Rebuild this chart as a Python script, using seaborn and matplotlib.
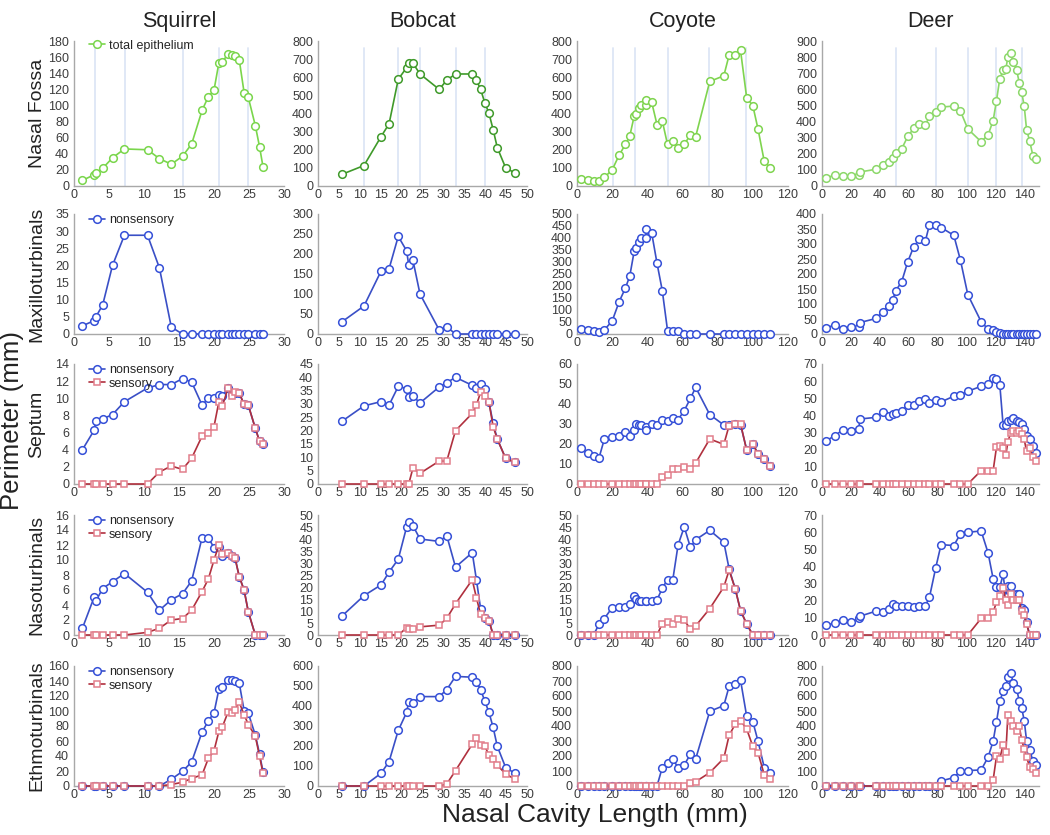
import pandas as pd
import matplotlib
matplotlib.use("Agg")
import matplotlib.pyplot as plt
import seaborn as sns

# ---------------- data ----------------
sq_x = [1.2, 2.9, 3.1, 4.1, 5.5, 7.2, 10.5, 12.2, 13.9, 15.5, 16.8, 18.3, 19.2,
        20.0, 20.7, 21.2, 22.0, 22.5, 23.0, 23.6, 24.3, 24.9, 25.9, 26.5, 27.0]
sq_fossa = [7, 14, 16, 22, 35, 46, 45, 34, 27, 37, 52, 94, 111, 119, 153, 154,
            164, 163, 162, 157, 116, 110, 75, 49, 24]
sq_maxillo = [2.4, 3.9, 4.9, 8.5, 20, 28.8, 28.8, 19.3, 2] + [0] * 16
sq_septum_ns = [4.0, 6.3, 7.3, 7.6, 8.1, 9.6, 11.2, 11.6, 11.6, 12.3, 11.9, 9.2, 10.0,
                10.0, 10.4, 10.3, 11.2, 10.5, 10.6, 10.6, 9.3, 9.2, 6.5, 5.0, 4.7]
sq_septum_s = [0, 0, 0, 0, 0, 0, 0, 1.4, 2.1, 1.7, 3.0, 5.6, 6.0, 6.7, 9.6, 9.1, 11.2,
               10.3, 10.7, 10.6, 9.3, 9.2, 6.5, 5.0, 4.7]
sq_naso_ns = [0.9, 5.1, 4.5, 6.2, 7.1, 8.2, 5.7, 3.3, 4.7, 5.5, 7.2, 13.0, 13.0, 11.6,
              11.8, 10.6, 11.0, 10.5, 10.3, 7.8, 6.0, 3.1, 0, 0, 0]
sq_naso_s = [0, 0, 0, 0, 0, 0, 0.35, 0.9, 2.0, 2.2, 3.3, 5.8, 7.5, 10.0, 12.0, 10.8,
             11.0, 10.6, 10.3, 7.8, 6.0, 3.1, 0, 0, 0]
sq_ethmo_ns = [0, 0, 0, 0, 0, 0, 0, 0, 9, 19.5, 32, 72, 87, 97.5, 129, 132.5, 141, 141,
               140.5, 137.5, 100.6, 97, 68, 43, 19]
sq_ethmo_s = [0, 0, 0, 0, 0, 0, 0, 0, 2, 5, 10, 15, 37, 47, 73, 79, 98.4, 98, 102,
              111.7, 95, 82, 66.5, 40, 17]
sq_vlines = [3.0, 7.3, 15.6, 20.7, 24.9]

bc_x = [5.8, 11.0, 15.1, 17.0, 19.2, 21.2, 21.7, 22.7, 24.4, 29.0, 30.8, 32.9, 36.9,
        37.9, 38.9, 39.9, 40.9, 41.9, 42.9, 44.9, 47.1]
bc_fossa = [65, 113, 273, 343, 589, 653, 678, 678, 618, 533, 584, 618, 618, 584, 533,
            460, 401, 311, 211, 100, 72]
bc_maxillo = [31, 70, 157.5, 163, 244, 208, 172.5, 185, 100, 10, 18] + [0] * 10
bc_septum_ns = [23.6, 29.3, 30.9, 29.6, 36.6, 35.8, 32.8, 33, 30.4, 36.4, 38, 40, 37,
                35.9, 37.6, 35.5, 30.6, 22.8, 16.8, 9.6, 8.1]
bc_septum_s = [0, 0, 0, 0, 0, 0, 0, 5.9, 4, 8.6, 8.6, 20, 26.5, 29.6, 34.4, 33.1, 30.6,
               21.5, 16.8, 9.6, 8.1]
bc_naso_ns = [8, 16.4, 20.9, 26.2, 31.6, 45, 47, 45.6, 40, 39, 41.4, 28.3, 34.3, 23, 11,
              7.2, 6, 0, 0, 0, 0]
bc_naso_s = [0, 0, 0, 0, 0, 3, 2.5, 2.5, 3.4, 4.1, 6.9, 13, 23, 15.5, 8.6, 7.2, 6,
             0, 0, 0, 0]
bc_ethmo_ns = [0, 0, 64, 122, 278, 368, 422, 414, 447, 447, 482, 548, 544, 521, 482,
               425, 368, 293, 198, 92, 64]
bc_ethmo_s = [0, 0, 0, 0, 0, 0, 0, 0, 0, 0, 10, 77, 209, 238, 204, 198, 156, 134, 104,
              60, 34]
bc_vlines = [11.0, 19.2, 24.5, 33.0, 40.0]

cy_x = [2.5, 6.5, 9.5, 12.5, 15.5, 20, 24, 27.5, 30, 32.5, 33.5, 35.5, 36.5, 39, 39.5,
        42.5, 45.5, 48.5, 51.5, 54.5, 57.5, 61, 64.5, 67.5, 75.5, 83.5, 86.5, 90, 93,
        96.5, 100, 103, 106.5, 110]
cy_fossa = [37, 32, 28, 28, 47, 89, 171, 229, 275, 385, 400, 430, 447, 447, 474, 461,
            339, 359, 229, 249, 207, 229, 283, 273, 577, 608, 722, 722, 748, 487, 443,
            312, 136, 100]
cy_maxillo = [19, 17, 14, 10, 17, 54, 135, 191, 241, 344, 358, 383, 401, 401, 437, 420,
              295, 181, 14, 11, 11] + [0] * 13
cy_septum_ns = [17.8, 15.3, 14, 13, 22.3, 23.3, 24, 25.8, 23.8, 27.2, 29.8, 29.5, 29.5,
                28.5, 27.2, 29.8, 29.5, 32, 31.5, 33.2, 32.2, 36.7, 42.8, 48.3, 34.7,
                29.5, 29.3, 29.8, 29.7, 17.2, 20, 15, 12.7, 9]
cy_septum_s = [0] * 17 + [3.5, 4.7, 7.3, 7.7, 8.7, 7.7, 10.5, 22.5, 19.8, 29.2, 29.8,
                          30.2, 16.8, 20, 15, 12.7, 9]
cy_naso_ns = [0, 0, 0, 4.6, 6.8, 11.4, 11.7, 11.7, 13, 16.3, 15, 14.3, 14, 14.3, 14.3,
              14.3, 14.6, 19.5, 23.1, 23.1, 37.6, 45, 36.5, 39.7, 43.6, 38.7, 27.6,
              19.2, 10.2, 4.6, 0, 0, 0, 0]
cy_naso_s = [0] * 17 + [4.7, 5.6, 4.6, 6.8, 6.1, 2.5, 3.8, 11, 20, 27, 19.2, 10.2, 4.6,
                        0, 0, 0, 0]
cy_ethmo_ns = [0] * 17 + [123, 156, 181, 121, 141, 212, 181, 498, 536, 664, 677, 706,
                          465, 429, 297, 123, 89]
cy_ethmo_s = [0] * 22 + [18, 29, 89, 185, 337, 413, 436, 380, 264, 221, 74, 49]
cy_vlines = [20.7, 33.0, 52.0, 75.3, 96.3]

dr_x = [3, 9, 14.5, 20.3, 25.6, 26, 37.6, 42, 46.4, 48.9, 51, 55, 59.3, 63.4, 67.3,
        71.5, 74.3, 78.6, 82.3, 91.1, 95.7, 100.8, 110, 114.8, 118.3, 120.6, 122.9,
        125.2, 127.1, 128.5, 130.3, 132.2, 134.5, 136.3, 138, 139.8, 141.4, 143.5,
        145.8, 147.8]
dr_fossa = [52, 67, 62, 62, 69, 87, 104, 131, 146, 171, 204, 229, 308, 358, 385, 379,
            433, 458, 490, 496, 465, 354, 275, 317, 406, 529, 667, 717, 729, 800, 827,
            771, 723, 642, 583, 496, 350, 281, 188, 167]
dr_maxillo = [21, 30, 16, 22, 22, 38, 52, 75, 94, 114, 145, 173, 241, 291, 316, 311,
              365, 363, 355, 329, 246, 131, 41, 16, 13, 8, 3] + [0] * 13
dr_septum_ns = [25.3, 28.2, 31.7, 30.7, 32.1, 37.9, 38.9, 42.2, 39.9, 41, 41.4, 42.4,
                45.9, 45.9, 48.2, 49.8, 47.3, 49.2, 47.9, 51.2, 52.1, 54.1, 57, 58.4,
                61.9, 61.5, 58, 34.2, 34.2, 36.6, 37.4, 38.3, 37, 36, 35.2, 32.1, 27.8,
                26.3, 22.4, 18.1]
dr_septum_s = [0] * 22 + [7.8, 7.8, 7.8, 21.4, 22.4, 20.8, 17, 24.7, 29.5, 31, 30, 31,
                          29, 26, 19, 21, 15.5, 13.5]
dr_naso_ns = [5.8, 7, 8.5, 7.4, 10.1, 10.9, 14, 13.2, 15.3, 17.8, 16.9, 16.7, 16.9,
              16.3, 17.1, 17.1, 22.1, 39.2, 52.7, 52.2, 59, 59.9, 60.7, 47.9, 32.8,
              27.9, 27.9, 35.3, 22.1, 28.5, 28.5, 24, 24, 24, 15.9, 14.7, 7.6, 0, 0, 0]
dr_naso_s = [0] * 22 + [9.7, 9.7, 13.2, 19.2, 22.7, 27.5, 20.2, 17.3, 23.7, 20.2, 20.2,
                        20.2, 14, 11.4, 6.6, 0, 0, 0]
dr_ethmo_ns = [0] * 18 + [34, 56, 98, 103, 107, 192, 299, 427, 565, 632, 666, 728, 751,
                          688, 648, 570, 521, 436, 302, 241, 168, 139]
dr_ethmo_s = [0] * 24 + [40, 197, 183, 275, 224, 476, 431, 402, 366, 402, 308, 246, 192,
                         130, 114, 89]
dr_vlines = [51, 78.6, 100.8, 120.6, 138]

species = ["Squirrel", "Bobcat", "Coyote", "Deer"]
regions = ["Nasal Fossa", "Maxilloturbinals", "Septum", "Nasoturbinals", "Ethmoturbinals"]

# axis limits / ticks per column and row
x_max = [30, 50, 120, 150]
x_step = [5, 5, 20, 20]
y_lims = [[(180, 20), (800, 100), (800, 100), (900, 100)],
          [(35, 5), (300, 50), (500, 50), (400, 50)],
          [(14, 2), (45, 5), (60, 10), (70, 10)],
          [(16, 2), (50, 5), (50, 5), (70, 10)],
          [(160, 20), (600, 100), (800, 100), (800, 100)]]

green = ["#7ad64c", "#3f9a2a", "#7fd44f", "#8cd86a"]
blue = "#3a4fc6"
blue_edge = "#3550d8"
red = "#b0303e"
red_edge = "#e27f8c"

cols = [
    (sq_x, [sq_fossa, sq_maxillo, (sq_septum_ns, sq_septum_s), (sq_naso_ns, sq_naso_s),
            (sq_ethmo_ns, sq_ethmo_s)], sq_vlines),
    (bc_x, [bc_fossa, bc_maxillo, (bc_septum_ns, bc_septum_s), (bc_naso_ns, bc_naso_s),
            (bc_ethmo_ns, bc_ethmo_s)], bc_vlines),
    (cy_x, [cy_fossa, cy_maxillo, (cy_septum_ns, cy_septum_s), (cy_naso_ns, cy_naso_s),
            (cy_ethmo_ns, cy_ethmo_s)], cy_vlines),
    (dr_x, [dr_fossa, dr_maxillo, (dr_septum_ns, dr_septum_s), (dr_naso_ns, dr_naso_s),
            (dr_ethmo_ns, dr_ethmo_s)], dr_vlines),
]

# ---------------- figure ----------------
sns.set_theme(style="white")
plt.rcParams['font.family'] = ['Liberation Sans', 'DejaVu Sans']

W, H = 1050, 835
fig = plt.figure(figsize=(W / 100, H / 100), dpi=100)

col_px = [(74, 284), (318, 527), (577, 788), (822, 1039)]
row_px = [(41, 186), (214, 334), (364, 484), (515, 635), (666, 786)]


def series(ax, x, y, color, marker, edge, label, ms=5.5):
    df = pd.DataFrame({"x": x, "y": y})
    sns.lineplot(data=df, x="x", y="y", ax=ax, color=color, marker=marker,
                 markersize=ms, markerfacecolor="white", markeredgecolor=edge,
                 markeredgewidth=1.1, linewidth=1.2, sort=False, estimator=None,
                 label=label, legend=False, clip_on=False, zorder=3)


for c, (xs, rows, vl) in enumerate(cols):
    for r in range(5):
        L, R = col_px[c]
        T, B = row_px[r]
        ax = fig.add_axes([L / W, 1 - B / H, (R - L) / W, (B - T) / H])
        ymax, ystep = y_lims[r][c]
        if r == 0:
            for v in vl:
                ax.axvline(v, ymax=0.95, color="#dde6f6", lw=1.3, zorder=1)
            series(ax, xs, rows[0], green[c], "o", green[c], "total epithelium")
        elif r == 1:
            series(ax, xs, rows[1], blue, "o", blue_edge, "nonsensory")
        else:
            ns, s = rows[r]
            series(ax, xs, ns, blue, "o", blue_edge, "nonsensory")
            series(ax, xs, s, red, "s", red_edge, "sensory", ms=5)
        ax.set_xlim(0, x_max[c])
        ax.set_ylim(0, ymax)
        ax.set_xticks(range(0, x_max[c] + 1 if c < 3 else 141, x_step[c]))
        ax.set_yticks(range(0, ymax + 1, ystep))
        ax.set_xlabel("")
        ax.set_ylabel("")
        for s_ in ["top", "right"]:
            ax.spines[s_].set_visible(False)
        for s_ in ["left", "bottom"]:
            ax.spines[s_].set_color("#a8a8a8")
            ax.spines[s_].set_linewidth(1.0)
        ax.tick_params(axis="both", labelsize=9, colors="#a8a8a8", labelcolor="#3c3c3c",
                       length=2.5, width=0.8, pad=1, direction="out")
        ax.tick_params(axis="x", pad=0)
        ax.set_facecolor("none")
        if c == 0:
            ax.legend(loc="upper left", bbox_to_anchor=(0.03, 1.07), frameon=False,
                      fontsize=9, handlelength=1.3, handletextpad=0.3,
                      labelspacing=0.1, borderpad=0.2)
            fig.text(37 / W, 1 - (T + B) / 2 / H, regions[r], rotation=90,
                     ha="center", va="center", fontsize=14, color="#222222")
        if r == 0:
            ax.set_title(species[c], fontsize=15.5, color="#222222", pad=10)

fig.text(12 / W, 1 - 420 / H, "Perimeter (mm)", rotation=90, ha="center", va="center",
         fontsize=18.5, color="#222222")
fig.text(595 / W, 1 - 815 / H, "Nasal Cavity Length (mm)", ha="center", va="center",
         fontsize=19, color="#222222")

fig.savefig("out.png", dpi=100, facecolor="white")
